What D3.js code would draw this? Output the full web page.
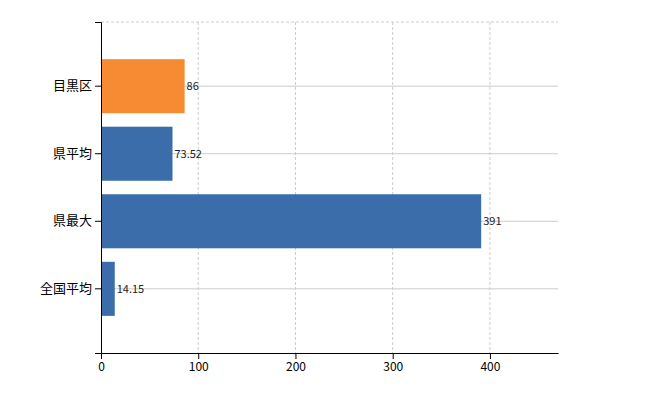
<!DOCTYPE html>
<html><head><meta charset="utf-8">
<script src="https://cdn.jsdelivr.net/npm/d3@7"></script>
<style>body{margin:0;background:#fff}text{font-family:"Noto Sans CJK JP",sans-serif}</style>
</head><body><div id="wrapper"></div>
<script>
const categories = ["目黒区", "県平均", "県最大", "全国平均"];
const values = [86, 73.52, 391, 14.15];
const labels = ["86", "73.52", "391", "14.15"];
const barColors = ["#f68b33", "#3b6dab", "#3b6dab", "#3b6dab"];
const xTicks = [0, 100, 200, 300, 400];

const margin = {top: 22, left: 101, right: 92, bottom: 47};
const width = 650, height = 400;
const bw = width - margin.left - margin.right;
const bh = height - margin.top - margin.bottom;

const svg = d3.select("#wrapper").append("svg").attr("width", width).attr("height", height);
const g = svg.append("g").attr("transform", `translate(${margin.left},${margin.top})`);

const x = d3.scaleLinear().domain([0, 470]).range([0, bw]);
const y = d3.scaleBand().domain(categories).range([0, bh]).paddingInner(0.2).paddingOuter(0.55);

// grid
g.selectAll(".vg").data(xTicks.slice(1)).enter().append("line")
  .attr("x1", d => x(d)).attr("x2", d => x(d)).attr("y1", 0).attr("y2", bh)
  .attr("stroke", "#ccc").attr("stroke-dasharray", "3,2");
g.append("line").attr("x1", 0).attr("x2", bw).attr("y1", 0).attr("y2", 0)
  .attr("stroke", "#ccc").attr("stroke-dasharray", "3,2");
g.selectAll(".hg").data(categories).enter().append("line")
  .attr("x1", 0).attr("x2", bw)
  .attr("y1", d => y(d) + y.bandwidth() / 2).attr("y2", d => y(d) + y.bandwidth() / 2)
  .attr("stroke", "#ccc");

g.selectAll("rect").data(values).enter().append("rect")
  .attr("x", 0).attr("y", (d, i) => y(categories[i]))
  .attr("width", d => x(d)).attr("height", y.bandwidth())
  .attr("fill", (d, i) => barColors[i]);

g.selectAll(".lbl").data(values).enter().append("text")
  .attr("x", d => x(d) + 2).attr("y", (d, i) => y(categories[i]) + y.bandwidth() / 2)
  .attr("dy", "0.35em").attr("font-size", 11).attr("fill", "#222")
  .text((d, i) => labels[i]);

const ax = g.append("g").attr("transform", `translate(0,${bh})`)
  .call(d3.axisBottom(x).tickValues(xTicks).tickSizeOuter(0));
ax.selectAll("text").attr("font-size", 12).attr("fill", "#000");
const ay = g.append("g").call(d3.axisLeft(y));
ay.selectAll("text").attr("font-size", 13).attr("fill", "#000");
</script></body></html>
